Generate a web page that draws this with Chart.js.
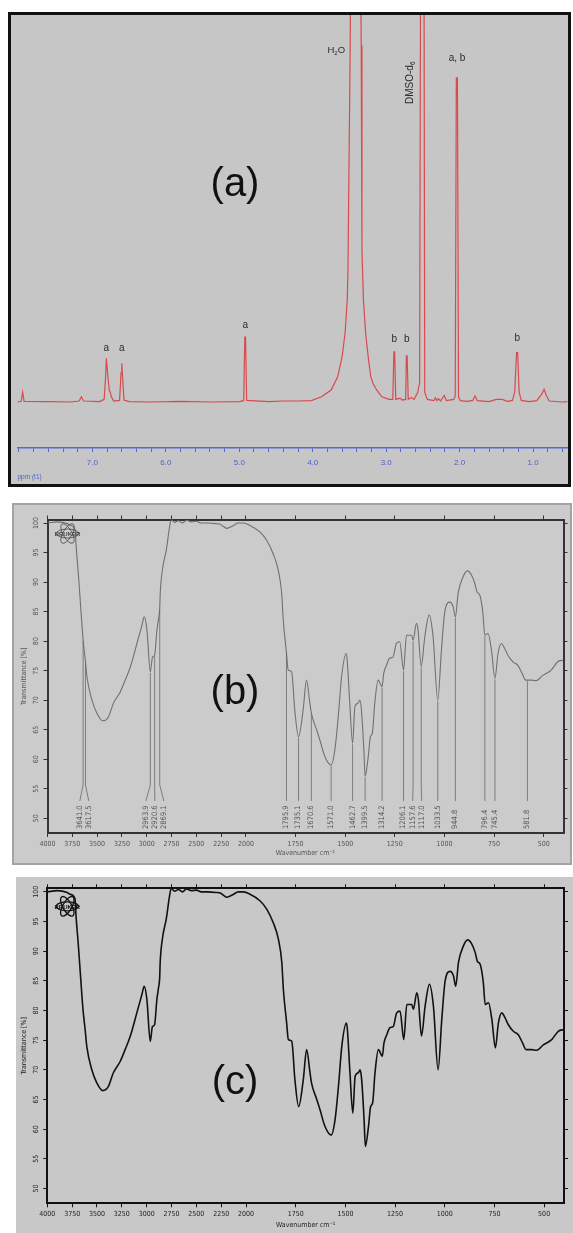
<!DOCTYPE html>
<html>
<head>
<meta charset="utf-8">
<script src="https://cdn.jsdelivr.net/npm/chart.js@4.4.1/dist/chart.umd.min.js"></script>
<style>
  html, body { margin: 0; padding: 0; background: #fff; }
  body { position: relative; width: 573px; height: 1233px; overflow: hidden; }
  .frame { position: absolute; box-sizing: border-box; }
  #frameA { left: 8px; top: 12px; width: 563px; height: 475px; background: #c6c6c6; border: 3px solid #111; }
  #frameB { left: 12px; top: 503px; width: 560px; height: 362px; background: #cbcbcb; border: 2px solid #a3a3a3; }
  #frameC { left: 16px; top: 877px; width: 557px; height: 356px; background: #c8c8c8; }
  canvas { position: absolute; left: 0; }
</style>
</head>
<body>
<div class="frame" id="frameA"></div>
<div class="frame" id="frameB"></div>
<div class="frame" id="frameC"></div>
<canvas id="chartA" width="573" height="490" style="top:0"></canvas>
<canvas id="chartB" width="573" height="370" style="top:500px"></canvas>
<canvas id="chartC" width="573" height="363" style="top:870px"></canvas>
<script>
// 1H NMR spectrum (ppm, relative intensity)
const nmrPpm = [8.02, 7.97, 7.95, 7.93, 7.6, 7.3, 7.18, 7.15, 7.12, 6.9, 6.84, 6.82, 6.81, 6.79, 6.77, 6.76, 6.74, 6.71,
  6.63, 6.61, 6.60, 6.59, 6.57, 6.5, 6.2, 5.8, 5.4, 5.0, 4.94, 4.925, 4.915, 4.90, 4.6, 4.4, 4.2,
  4.02, 3.88, 3.75, 3.66, 3.60, 3.56, 3.53, 3.52, 3.49, 3.47, 3.37, 3.34, 3.33, 3.31, 3.28, 3.24, 3.21, 3.18, 3.13, 3.06,
  2.96, 2.91, 2.895, 2.885, 2.87, 2.81, 2.78, 2.735, 2.725, 2.715, 2.70, 2.66, 2.62, 2.57, 2.545, 2.525, 2.49, 2.475, 2.44,
  2.35, 2.33, 2.31, 2.29, 2.26, 2.21, 2.18, 2.08, 2.06, 2.045, 2.03, 2.015, 1.99, 1.9, 1.82, 1.79, 1.76, 1.6, 1.5, 1.42,
  1.35, 1.28, 1.25, 1.225, 1.21, 1.19, 1.16, 1.05, 0.95, 0.88, 0.85, 0.82, 0.78, 0.6, 0.53];
const nmrInt = [0, 0.2, 3, 0.2, 0.1, 0, 0.3, 1.6, 0.3, 0.1, 0.8, 8, 13.5, 8, 3.5, 3.2, 1.5, 0.3,
  0.5, 9, 11.9, 8, 0.6, 0.1, 0, 0.2, 0, 0.1, 0.4, 20, 20, 0.5, 0.1, 0.3, 0.3,
  0.4, 1.6, 3.7, 7.8, 14, 21.2, 31.5, 41.8, 110, 200, 200, 110, 46.9, 31.5, 21.2, 13, 7.8, 5.8, 3.7, 1.6,
  0.8, 0.8, 15.5, 15.5, 0.8, 1.2, 0.6, 0.8, 14.2, 14.2, 0.8, 1.4, 0.8, 3, 6, 200, 200, 3, 0.8,
  0.4, 1.3, 0.4, 1.0, 0.3, 2, 0.4, 0.8, 1.8, 100, 100, 1.5, 0.4, 0.2, 0.5, 1.9, 0.4, 0.1, 0.8, 0.8,
  0.2, 0.5, 3, 15.2, 15.2, 3, 0.5, 0.1, 0.4, 2.5, 3.9, 2, 0.3, 0, 0.1];

// FTIR spectrum (wavenumber cm-1, transmittance %)
const irWn = [4000, 3900, 3800, 3771, 3721, 3711, 3687, 3663, 3641.0, 3617.5, 3603, 3552, 3502, 3442, 3385, 3335, 3267,
  3217, 3166, 3099, 3048, 3025, 2998, 2963.9, 2942, 2920.6, 2897, 2881, 2869.1, 2864, 2837, 2803, 2770, 2753, 2720,
  2680, 2640, 2600, 2550, 2500, 2450, 2393, 2300, 2259, 2225, 2192, 2160, 2125, 2080, 2024, 1980, 1930, 1896, 1863,
  1837, 1820, 1812, 1795.9, 1787, 1770, 1754, 1735.1, 1712, 1695, 1678, 1670.6, 1644, 1628, 1602, 1571.0, 1552, 1535,
  1518, 1495, 1490, 1477, 1462.7, 1451, 1435, 1426, 1418, 1406, 1399.5, 1384, 1373, 1363, 1351, 1334, 1314.2, 1306,
  1292, 1276, 1259, 1242, 1225, 1206.1, 1191, 1166, 1157.6, 1141, 1133, 1117.0, 1099, 1077, 1057, 1033.5, 1015, 998,
  973, 956, 944.8, 931, 906, 884, 864, 847, 836, 822, 806, 796.4, 780, 763, 745.4, 730, 713, 697, 680, 655, 630, 608,
  591, 581.8, 563, 538, 504, 462, 429, 400];
const irT = [100, 100.2, 99.9, 99.6, 98.8, 96, 90.9, 85.2, 80.2, 76.5, 74, 70, 67.8, 66.5, 67.2, 69.5, 71.4,
  73.4, 75.6, 79.6, 82.7, 84.1, 81.9, 74.8, 77.3, 77.6, 81.9, 83.8, 85.5, 88.1, 92.6, 95.4, 99.3, 100.6, 100.1,
  100.4, 100.0, 100.5, 100.2, 100.3, 100.0, 100.0, 99.9, 99.8, 99.4, 99.1, 99.3, 99.6, 100.0, 100.0, 99.6, 98.5, 97.1, 94.8,
  92, 88.1, 83.5, 78, 75.1, 74.8, 68.3, 63.8, 68.3, 73.4, 69.5, 67.8, 65, 63.3, 60.4, 59, 61.6, 67.2,
  74, 77.9, 76.8, 69.5, 62.7, 68.9, 69.5, 70, 68.3, 61.6, 57.1, 60.4, 63.8, 64.4, 69.5, 73.4, 72.3, 74.5,
  75.9, 77.1, 77.3, 79.6, 79.9, 75.1, 81, 81, 80.2, 83, 81.9, 75.7, 80.7, 84.4, 80.7, 70, 78.5, 85,
  86.6, 85.8, 84.1, 88.1, 90.9, 91.9, 91.2, 89.8, 88.3, 87.8, 84.7, 81, 81.3, 78.5, 73.7, 77.9, 79.6, 78.8, 77.6, 76.5, 75.9, 74.5,
  73.4, 73.4, 73.4, 73.3, 74.2, 75.1, 76.5, 76.8];
// peaks picked in spectrum (b)
const irPeaks = [3641.0, 3617.5, 2963.9, 2920.6, 2869.1, 1795.9, 1735.1, 1670.6, 1571.0, 1462.7, 1399.5, 1314.2,
  1206.1, 1157.6, 1117.0, 1033.5, 944.8, 796.4, 745.4, 581.8];

const SANS = '"Liberation Sans", Arial, sans-serif';
const NARROW = '"Liberation Sans Narrow", "DejaVu Sans Condensed", "Liberation Sans", sans-serif';
Chart.defaults.font.family = SANS;

// IR axis: 4000-2000 drawn at half the density of 2000-400
const IR_BREAK = 2000;
class IrScale extends Chart.LinearScale {
  irDecimal(v) {
    const span = (IR_BREAK - this.min) + (this.max - IR_BREAK) / 2;
    return (v <= IR_BREAK ? v - this.min : (IR_BREAK - this.min) + (v - IR_BREAK) / 2) / span;
  }
  getPixelForValue(v) {
    return v === null ? NaN : this.getPixelForDecimal(this.irDecimal(v));
  }
  getValueForPixel(p) {
    const span = (IR_BREAK - this.min) + (this.max - IR_BREAK) / 2;
    const d = this.getDecimalForPixel(p) * span;
    return d <= IR_BREAK - this.min ? this.min + d : IR_BREAK + (d - (IR_BREAK - this.min)) * 2;
  }
}
IrScale.id = 'ir';
IrScale.defaults = Chart.LinearScale.defaults;
Chart.register(IrScale);

// big panel letters
const panelText = {
  id: 'panelText',
  afterDraw(chart, args, o) {
    const ctx = chart.ctx;
    ctx.save();
    ctx.font = '40px ' + SANS;
    ctx.fillStyle = '#111';
    ctx.textAlign = 'center';
    ctx.textBaseline = 'middle';
    ctx.fillText(o.text, o.x, o.y);
    ctx.restore();
  }
};

// text with a subscript tail, e.g. H2O
function drawSub(ctx, parts, size) {
  const widths = parts.map(p => { ctx.font = (p[1] ? size * 0.65 : size) + 'px ' + SANS; return ctx.measureText(p[0]).width; });
  let x = -widths.reduce((a, b) => a + b, 0) / 2;
  parts.forEach((p, i) => {
    ctx.font = (p[1] ? size * 0.65 : size) + 'px ' + SANS;
    ctx.fillText(p[0], x, p[1] ? size * 0.3 : 0);
    x += widths[i];
  });
}

const nmrNotes = [
  {t: 'a', ppm: 6.81, v: 16.7}, {t: 'a', ppm: 6.60, v: 16.7}, {t: 'a', ppm: 4.92, v: 23.8},
  {t: 'b', ppm: 2.89, v: 19.4}, {t: 'b', ppm: 2.72, v: 19.4}, {t: 'b', ppm: 1.215, v: 19.8},
  {t: 'a, b', ppm: 2.035, v: 106.2}
];
const nmrLabels = {
  id: 'nmrLabels',
  afterDatasetsDraw(chart) {
    const {ctx, scales: {x, y}} = chart;
    ctx.save();
    ctx.fillStyle = '#2b2b2b';
    ctx.textBaseline = 'middle';
    ctx.font = '10px ' + SANS;
    ctx.textAlign = 'center';
    nmrNotes.forEach(n => ctx.fillText(n.t, x.getPixelForValue(n.ppm), y.getPixelForValue(n.v)));
    ctx.save();
    ctx.translate(x.getPixelForValue(3.68), y.getPixelForValue(108.6));
    ctx.textAlign = 'left';
    drawSub(ctx, [['H'], ['2', true], ['O']], 9.5);
    ctx.restore();
    ctx.save();
    ctx.translate(x.getPixelForValue(2.675), y.getPixelForValue(98.5));
    ctx.rotate(-Math.PI / 2);
    ctx.textAlign = 'left';
    drawSub(ctx, [['DMSO-d'], ['6', true]], 10);
    ctx.restore();
    // axis caption under the ppm scale
    ctx.fillStyle = '#5060d0';
    ctx.font = '6.5px ' + SANS;
    ctx.textAlign = 'left';
    ctx.fillText('ppm (t1)', x.left, x.bottom - 13);
    ctx.restore();
  }
};

// peak picking lines and labels of spectrum (b)
const peakMarks = {
  id: 'peakMarks',
  afterDatasetsDraw(chart) {
    const {ctx, chartArea: a} = chart;
    const meta = chart.getDatasetMeta(0);
    const pts = irPeaks.map(w => meta.data[irWn.indexOf(w)]);
    const xs = pts.map(p => p.x);
    const lx = xs.slice();
    const gap = 9;
    const groups = [[0]];
    for (let i = 1; i < lx.length; i++) {
      if (lx[i] < lx[i - 1] + gap) { lx[i] = lx[i - 1] + gap; groups[groups.length - 1].push(i); }
      else groups.push([i]);
    }
    const avg = arr => arr.reduce((s, v) => s + v, 0) / arr.length;
    groups.forEach(g => {
      if (g.length < 2) return;
      const d = avg(g.map(i => xs[i])) - avg(g.map(i => lx[i]));
      g.forEach(i => { lx[i] += d; });
    });
    const yBend = a.bottom - 48, yEnd = a.bottom - 32, yText = a.bottom - 4;
    ctx.save();
    ctx.strokeStyle = '#6a6a6a';
    ctx.lineWidth = 0.8;
    ctx.fillStyle = '#555';
    ctx.font = '7.5px ' + NARROW;
    ctx.textAlign = 'left';
    ctx.textBaseline = 'middle';
    pts.forEach((p, i) => {
      ctx.beginPath();
      ctx.moveTo(p.x, p.y + 1);
      ctx.lineTo(p.x, yBend);
      ctx.lineTo(lx[i], yEnd);
      ctx.stroke();
      ctx.save();
      ctx.translate(lx[i], yText);
      ctx.rotate(-Math.PI / 2);
      ctx.fillText(irPeaks[i].toFixed(1), 0, 0);
      ctx.restore();
    });
    ctx.restore();
  }
};

// instrument logo in the top left corner of the IR plots
const bruker = {
  id: 'bruker',
  afterDraw(chart, args, o) {
    const {ctx, chartArea: a} = chart;
    const cx = a.left + 20, cy = a.top + o.dy;
    ctx.save();
    ctx.strokeStyle = o.color;
    ctx.lineWidth = o.width;
    [0, Math.PI / 3, -Math.PI / 3].forEach(r => {
      ctx.beginPath();
      ctx.ellipse(cx, cy, 11, 4.5, r, 0, Math.PI * 2);
      ctx.stroke();
    });
    ctx.fillStyle = o.color;
    ctx.font = 'bold 6px ' + SANS;
    ctx.textAlign = 'center';
    ctx.textBaseline = 'middle';
    ctx.fillText('BRUKER', cx, cy + 1);
    ctx.restore();
  }
};

new Chart(document.getElementById('chartA'), {
  type: 'line',
  data: {
    datasets: [{
      data: nmrPpm.map((p, i) => ({x: p, y: nmrInt[i]})),
      borderColor: '#d84a4e',
      borderWidth: 1.2,
      pointRadius: 0,
      tension: 0
    }]
  },
  options: {
    responsive: false,
    animation: false,
    layout: {padding: {left: 17.5, right: 5.4, top: 15, bottom: 0}},
    plugins: {
      legend: {display: false},
      tooltip: {enabled: false},
      panelText: {text: '(a)', x: 235, y: 185}
    },
    scales: {
      x: {
        type: 'linear', min: 0.53, max: 8.02, reverse: true,
        afterFit: s => { s.height = 42; },
        ticks: {
          stepSize: 0.2, includeBounds: false, autoSkip: false, maxRotation: 0, padding: 6,
          color: '#5060d0', font: {size: 8},
          callback: v => (Math.abs(v - Math.round(v)) < 1e-6 && v < 7.5) ? v.toFixed(1) : ''
        },
        grid: {drawOnChartArea: false, tickLength: 4, color: '#5566d6', lineWidth: 1},
        border: {color: '#5566d6', width: 1.5}
      },
      y: {display: false, min: -14.2, max: 119.4}
    }
  },
  plugins: [nmrLabels, panelText]
});

function irChart(id, look, extra) {
  const tick = {display: false, stepSize: 250, includeBounds: false};
  const grid = {drawOnChartArea: false, tickLength: 4, color: look.axis, lineWidth: 1};
  const border = {color: look.axis, width: 2};
  const xBase = {type: 'ir', min: 400, max: 4000, reverse: true, grid, border};
  const yBase = {type: 'linear', min: 47.5, max: 100.6, grid, border};
  return new Chart(document.getElementById(id), {
    type: 'line',
    data: {
      datasets: [{
        data: irWn.map((w, i) => ({x: w, y: irT[i]})),
        borderColor: look.line,
        borderWidth: look.lineWidth,
        pointRadius: 0,
        cubicInterpolationMode: 'monotone'
      }]
    },
    options: {
      responsive: false,
      animation: false,
      layout: {padding: look.pad},
      plugins: {
        legend: {display: false},
        tooltip: {enabled: false},
        panelText: {text: look.letter, x: 235, y: look.letterY},
        bruker: {dy: look.logoDy, color: look.logo, width: look.logoWidth}
      },
      scales: {
        x: {
          ...xBase, position: 'bottom',
          afterFit: s => { s.height = look.bottomH; },
          ticks: {
            stepSize: 250, includeBounds: false, autoSkip: false, maxRotation: 0, padding: 3,
            color: look.text, font: {size: 7, family: NARROW}, callback: v => String(v)
          },
          title: {display: true, text: 'Wavenumber cm\u207B\u00B9', color: look.text, font: {size: 7, family: NARROW}, padding: 0}
        },
        x2: {...xBase, position: 'top', afterFit: s => { s.height = 4; }, ticks: tick},
        y: {
          ...yBase, position: 'left',
          afterFit: s => { s.width = look.leftW; },
          ticks: {
            stepSize: 5, includeBounds: false, minRotation: 90, maxRotation: 90, crossAlign: 'center', padding: 1.5,
            color: look.text, font: {size: 7, family: NARROW}
          },
          title: {display: true, text: 'Transmittance [%]', color: look.text, font: {size: 7, family: NARROW}, padding: {top: 20, bottom: 0}}
        },
        y2: {...yBase, position: 'right', afterFit: s => { s.width = 4; }, ticks: {display: false, stepSize: 5, includeBounds: false}}
      }
    },
    plugins: extra.concat([panelText, bruker])
  });
}

irChart('chartB', {
  line: '#707070', lineWidth: 1.1, axis: '#333', text: '#555', letter: '(b)', letterY: 193,
  logo: '#444', logoWidth: 0.8, logoDy: 14,
  pad: {left: 0, right: 5.5, top: 15.5, bottom: 13}, bottomH: 24, leftW: 47.5
}, [peakMarks]);

irChart('chartC', {
  line: '#111', lineWidth: 1.6, axis: '#111', text: '#222', letter: '(c)', letterY: 213,
  logo: '#111', logoWidth: 1.3, logoDy: 18,
  pad: {left: 0, right: 5, top: 14.3, bottom: 3.7}, bottomH: 26, leftW: 47.3
}, []);
</script>
</body>
</html>
